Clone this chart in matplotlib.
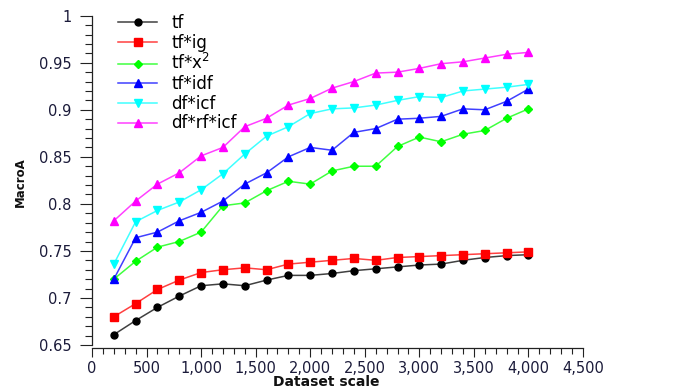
import numpy as np
import matplotlib
matplotlib.use("Agg")
import matplotlib.pyplot as plt
from matplotlib.ticker import MultipleLocator, FuncFormatter

# dataset scale (x) and MacroA values
scale = [200, 400, 600, 800, 1000, 1200, 1400, 1600, 1800, 2000,
         2200, 2400, 2600, 2800, 3000, 3200, 3400, 3600, 3800, 4000]

tf = [0.661, 0.676, 0.690, 0.702, 0.713, 0.715, 0.713, 0.719, 0.724, 0.724,
      0.726, 0.729, 0.731, 0.733, 0.735, 0.736, 0.740, 0.743, 0.745, 0.746]
tf_ig = [0.680, 0.694, 0.709, 0.719, 0.727, 0.730, 0.732, 0.730, 0.736, 0.738,
         0.740, 0.742, 0.740, 0.743, 0.744, 0.745, 0.746, 0.747, 0.748, 0.749]
tf_x2 = [0.720, 0.739, 0.754, 0.760, 0.770, 0.798, 0.801, 0.814, 0.824, 0.821,
         0.835, 0.840, 0.840, 0.861, 0.871, 0.866, 0.874, 0.878, 0.891, 0.901]
tf_idf = [0.720, 0.764, 0.770, 0.782, 0.791, 0.803, 0.821, 0.833, 0.850, 0.860,
          0.857, 0.876, 0.880, 0.890, 0.891, 0.893, 0.901, 0.900, 0.909, 0.922]
df_icf = [0.736, 0.781, 0.793, 0.802, 0.815, 0.832, 0.853, 0.872, 0.882, 0.896,
          0.901, 0.902, 0.905, 0.910, 0.914, 0.913, 0.920, 0.922, 0.924, 0.927]
df_rf_icf = [0.782, 0.803, 0.821, 0.833, 0.851, 0.860, 0.882, 0.891, 0.905, 0.912,
             0.923, 0.930, 0.939, 0.940, 0.944, 0.949, 0.951, 0.955, 0.959, 0.961]

series = [
    ("tf", tf, "#000000", "o", 5.0),
    ("tf*ig", tf_ig, "#ff0000", "s", 5.5),
    ("tf*x$^2$", tf_x2, "#00ff00", "D", 3.6),
    ("tf*idf", tf_idf, "#0000ff", "^", 6.0),
    ("df*icf", df_icf, "#00ffff", "v", 6.0),
    ("df*rf*icf", df_rf_icf, "#ff00ff", "^", 6.0),
]

tick_color = "#1b1b3a"

fig = plt.figure(figsize=(6.8, 3.9), dpi=100)
ax = fig.add_axes([92 / 680, 45 / 390, 491 / 680, 329.3 / 390])

for label, vals, col, mk, ms in series:
    rgb = matplotlib.colors.to_rgb(col)
    ax.plot(scale, vals, color=(*rgb, 0.75), linewidth=1.1,
            marker=mk, markersize=ms, markerfacecolor=col,
            markeredgecolor=col, label=label)

ax.set_xlim(0, 4500)
ax.set_ylim(0.65, 1.0)

ax.spines["top"].set_visible(False)
ax.spines["right"].set_visible(False)
ax.spines["bottom"].set_position(("outward", 2))
for s in ("left", "bottom"):
    ax.spines[s].set_linewidth(0.9)
    ax.spines[s].set_color("#222222")

ax.xaxis.set_major_locator(MultipleLocator(500))
ax.xaxis.set_minor_locator(MultipleLocator(100))
ax.yaxis.set_major_locator(MultipleLocator(0.05))
ax.yaxis.set_minor_locator(MultipleLocator(0.01))
ax.xaxis.set_major_formatter(FuncFormatter(lambda v, p: f"{int(round(v)):,}"))
ax.yaxis.set_major_formatter(FuncFormatter(lambda v, p: f"{v:g}"))

ax.tick_params(axis="x", which="major", direction="out", length=6.7, width=0.8,
               pad=3, labelsize=10.5, colors="#222222", labelcolor=tick_color)
ax.tick_params(axis="x", which="minor", direction="out", length=4.3, width=0.8,
               colors="#222222")
ax.tick_params(axis="y", which="major", direction="out", length=8.6, width=0.8,
               pad=6, labelsize=10.5, colors="#222222", labelcolor=tick_color)
ax.tick_params(axis="y", which="minor", direction="out", length=5, width=0.8,
               colors="#222222")

fig.text(326.5 / 680, (390 - 382) / 390, "Dataset scale", ha="center",
         va="center", fontsize=10, fontweight="bold", color="#111111")
fig.text(20 / 680, (390 - 182) / 390, "MacroA", ha="center", va="center",
         rotation=90, fontsize=8.5, fontweight="bold", color="#111111")

ax.legend(loc="upper left", bbox_to_anchor=(118 / 680, (390 - 14) / 390),
          bbox_transform=fig.transFigure, frameon=False, fontsize=12,
          borderpad=0, borderaxespad=0, handlelength=2.35,
          handletextpad=0.85, labelspacing=0.1, numpoints=1)

plt.savefig("out.png", dpi=100)
plt.close()
